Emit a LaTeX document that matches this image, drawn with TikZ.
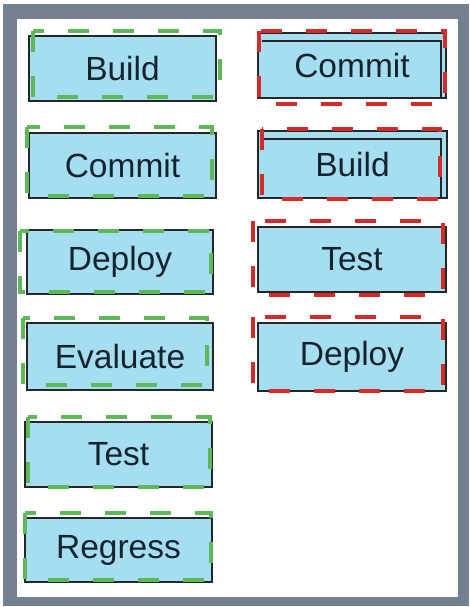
\documentclass[tikz,border=0pt]{standalone}
\usepackage{fontspec}
\setmainfont{Liberation Sans}
\definecolor{framegray}{HTML}{728090}
\definecolor{boxfill}{HTML}{A6DEF1}
\definecolor{boxtext}{HTML}{15232F}
\definecolor{dgreen}{HTML}{5DB85A}
\definecolor{dred}{HTML}{D42A2A}
\tikzset{
  box/.style={draw=black!85, line width=2pt, fill=boxfill, text=boxtext,
    font=\fontsize{33.5}{38}\selectfont, inner sep=0pt, anchor=center},
  lbox/.style={box, minimum width=187pt, minimum height=65pt},
  greendash/.style={draw=dgreen, line width=3.5pt, dash pattern=on 21pt off 24pt},
  reddash/.style={draw=dred, line width=3.5pt, dash pattern=on 21pt off 24pt},
  innerline/.style={draw=black!85, line width=1.2pt}
}
\begin{document}
\begin{tikzpicture}[x=1pt,y=-1pt]
\useasboundingbox (0,0) rectangle (470,607);
% frame
\fill[white] (0,0) rectangle (470,607);
\fill[framegray] (3,4) rectangle (469,606);
\fill[white] (17,19) rectangle (458,597);

% left column
\node[lbox] (lbuild) at (122.5,68.5) {Build};
\draw[greendash] (33,31) rectangle (220,97);

\node[lbox] (lcommit) at (122.5,165.5) {Commit};
\draw[greendash] (27,127) rectangle (212,196);

\node[lbox, minimum width=186pt, minimum height=64pt] (ldeploy) at (120,262) {Deploy};
\draw[greendash] (20,231) rectangle (211,292);

\node[lbox, minimum width=186pt, minimum height=67pt] (levaluate) at (120,356.5) {Evaluate};
\draw[greendash] (23,318) rectangle (207,385);

\node[lbox] (ltest) at (118.5,454.5) {Test};
\draw[greendash] (28,417) rectangle (210,487);

\node[lbox, minimum height=64pt] (lregress) at (118.5,550) {Regress};
\draw[greendash] (25,513) rectangle (211,580);

% right column
\node[lbox, minimum width=188pt] (rcommit) at (352,65.5) {Commit};
\draw[innerline] (262,41) -- (441,41) -- (441,98);
\draw[reddash] (259,31) rectangle (445,104);

\node[lbox, minimum width=189pt, minimum height=67pt] (rbuild) at (352.5,164.5) {Build};
\draw[innerline] (262,139) -- (441,139) -- (441,198);
\draw[reddash] (262,129) rectangle (440,199);

\node[lbox, minimum width=188pt] (rtest) at (352,259.5) {Test};
\draw[reddash] (253,221) rectangle (443,295);

\node[lbox, minimum width=188pt, minimum height=68pt] (rdeploy) at (352,357) {Deploy};
\draw[reddash] (253,317) rectangle (443,391);
\end{tikzpicture}
\end{document}
